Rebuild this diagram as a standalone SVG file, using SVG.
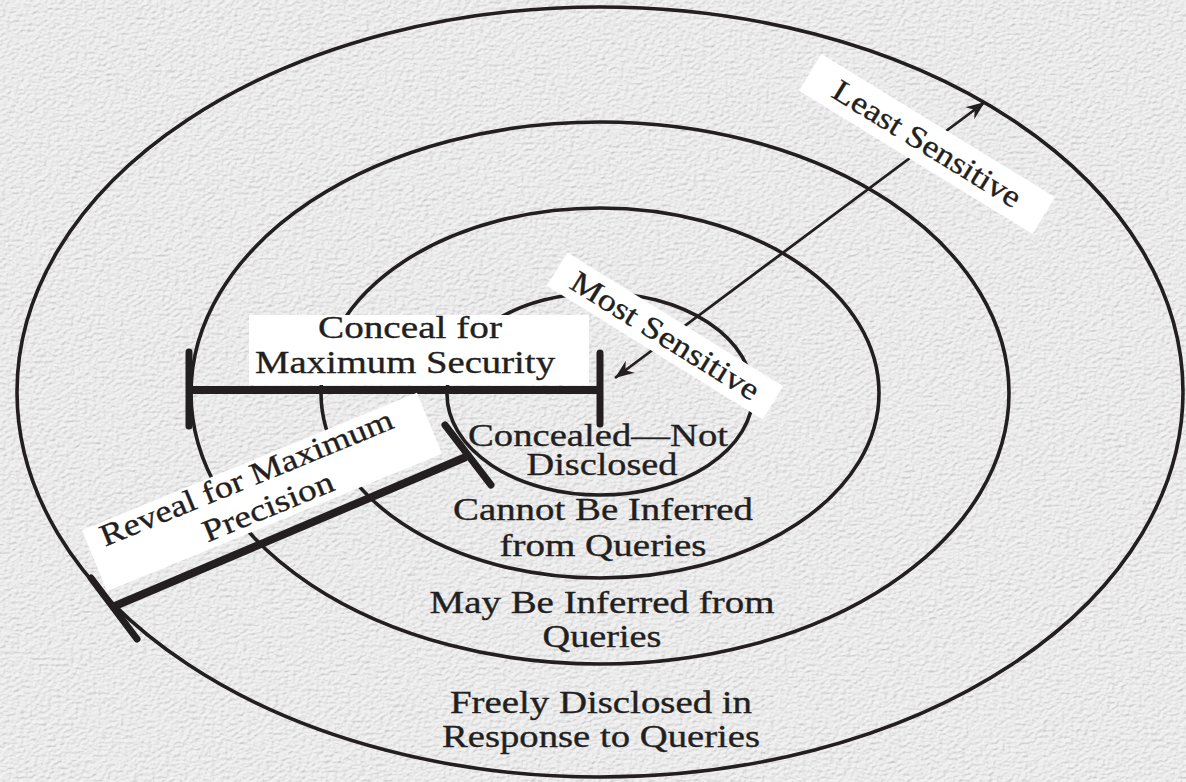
<svg xmlns="http://www.w3.org/2000/svg" width="1186" height="782" viewBox="0 0 1186 782">
  <defs>
    <style>
      .ring { fill: none; stroke: #231f20; stroke-width: 3.6; }
      .lbl { font-family: "Liberation Serif", "Times New Roman", serif; font-size: 31px; fill: #231f20; stroke: #231f20; stroke-width: 0.35; text-anchor: middle; }
      .box { fill: #ffffff; }
      .bar { stroke: #231f20; stroke-width: 8; fill: none; }
      .tick { stroke: #231f20; stroke-width: 7; stroke-linecap: round; fill: none; }
      .axis { stroke: #231f20; stroke-width: 2.8; fill: none; }
    </style>
    <marker id="barb" viewBox="-20 -9 21 18" refX="0" refY="0" markerWidth="21" markerHeight="18" markerUnits="userSpaceOnUse" orient="auto-start-reverse">
      <path d="M0,0 L-19,-7.5 L-13,0 L-19,7.5 Z" fill="#231f20"/>
    </marker>
    <!-- embossed paper grain -->
    <filter id="paper" x="0" y="0" width="100%" height="100%">
      <feTurbulence type="fractalNoise" baseFrequency="0.22 0.32" numOctaves="3" seed="7" result="noise"/>
      <feDiffuseLighting in="noise" surfaceScale="1.6" diffuseConstant="1" lighting-color="#ffffff" result="lit">
        <feDistantLight azimuth="235" elevation="62"/>
      </feDiffuseLighting>
    </filter>
  </defs>

  <!-- background -->
  <rect width="1186" height="782" fill="#e5e5e7"/>
  <rect width="1186" height="782" filter="url(#paper)" opacity="0.55"/>

  <!-- concentric sensitivity rings -->
  <g id="rings">
    <ellipse id="ring-outer" class="ring" cx="600" cy="392" rx="583" ry="385"/>
    <ellipse id="ring-2" class="ring" cx="600" cy="393" rx="409" ry="271"/>
    <ellipse id="ring-3" class="ring" cx="600" cy="393" rx="279" ry="185"/>
    <ellipse id="ring-inner" class="ring" cx="600" cy="394" rx="153" ry="101"/>
  </g>

  <!-- connectors: sensitivity axis and the two range brackets -->
  <g id="connectors">
    <line id="axis" class="axis" x1="615" y1="378" x2="985" y2="102" marker-start="url(#barb)" marker-end="url(#barb)"/>
    <g id="bracket-conceal">
      <line class="bar" x1="189" y1="390" x2="600" y2="390"/>
      <line class="tick" x1="189" y1="352" x2="189" y2="426"/>
      <line class="tick" x1="600" y1="353" x2="600" y2="424"/>
    </g>
    <g id="bracket-reveal">
      <line class="bar" x1="115" y1="606" x2="466" y2="457"/>
      <line class="tick" x1="91" y1="578" x2="137" y2="639"/>
      <line class="tick" x1="445" y1="425" x2="491" y2="485"/>
    </g>
  </g>

  <!-- ring labels -->
  <g id="label-concealed">
    <text class="lbl" x="598" y="446" textLength="260" lengthAdjust="spacingAndGlyphs">Concealed—Not</text>
    <text class="lbl" x="602" y="475" textLength="151" lengthAdjust="spacingAndGlyphs">Disclosed</text>
  </g>
  <g id="label-cannot">
    <text class="lbl" x="603" y="520" textLength="300" lengthAdjust="spacingAndGlyphs">Cannot Be Inferred</text>
    <text class="lbl" x="603" y="556" textLength="207" lengthAdjust="spacingAndGlyphs">from Queries</text>
  </g>
  <g id="label-may">
    <text class="lbl" x="602" y="613" textLength="345" lengthAdjust="spacingAndGlyphs">May Be Inferred from</text>
    <text class="lbl" x="602" y="647" textLength="119" lengthAdjust="spacingAndGlyphs">Queries</text>
  </g>
  <g id="label-freely">
    <text class="lbl" x="601" y="713" textLength="302" lengthAdjust="spacingAndGlyphs">Freely Disclosed in</text>
    <text class="lbl" x="601" y="747" textLength="318" lengthAdjust="spacingAndGlyphs">Response to Queries</text>
  </g>

  <!-- boxed captions -->
  <g id="caption-conceal">
    <rect class="box" x="249" y="315" width="340" height="70"/>
    <text class="lbl" x="410" y="338" textLength="184" lengthAdjust="spacingAndGlyphs">Conceal for</text>
    <text class="lbl" x="405" y="373" textLength="300" lengthAdjust="spacingAndGlyphs">Maximum Security</text>
  </g>
  <g id="caption-reveal" transform="translate(262,492) rotate(-22.3)">
    <rect class="box" x="-181" y="-33" width="362" height="66"/>
    <text class="lbl" x="-9" y="-9" textLength="314" lengthAdjust="spacingAndGlyphs">Reveal for Maximum</text>
    <text class="lbl" x="0" y="26" textLength="139" lengthAdjust="spacingAndGlyphs">Precision</text>
  </g>
  <g id="caption-most" transform="translate(665,336) rotate(31.8)">
    <rect class="box" x="-127" y="-19.5" width="254" height="39"/>
    <text class="lbl" x="0" y="10" textLength="216" lengthAdjust="spacingAndGlyphs">Most Sensitive</text>
  </g>
  <g id="caption-least" transform="translate(927,144) rotate(31.5)">
    <rect class="box" x="-137" y="-21.5" width="274" height="43"/>
    <text class="lbl" x="0" y="10" textLength="215" lengthAdjust="spacingAndGlyphs">Least Sensitive</text>
  </g>
</svg>
